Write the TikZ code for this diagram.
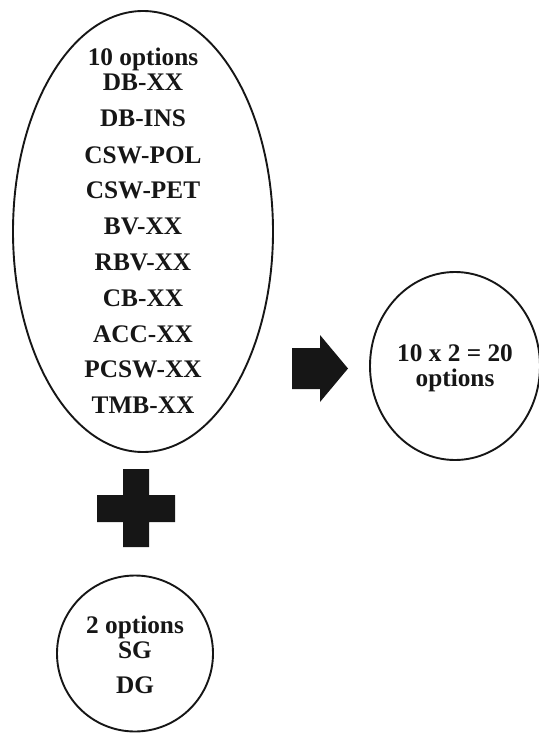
\documentclass[tikz,border=0pt]{standalone}
\usepackage{fontspec}
\setmainfont{Liberation Serif}
\usetikzlibrary{shapes.geometric}
\definecolor{ink}{RGB}{22,22,22}
\tikzset{
  oval/.style={draw=ink, line width=1.9pt, ellipse, inner sep=0pt},
  lbl/.style={anchor=base, inner sep=0pt, text=ink, font=\fontsize{25.3}{27}\selectfont\bfseries},
  solidshape/.style={fill=ink, draw=none}
}
\begin{document}
\begin{tikzpicture}[x=1pt,y=-1pt]
\useasboundingbox (0,0) rectangle (538,733);
% big ellipse
\node[oval, minimum width=260pt, minimum height=441pt] (big) at (143,231.5) {};
\node[lbl] (t0) at (143,66) {10 options};
\node[lbl] (t1) at (143,91) {DB-XX};
\node[lbl] (t2) at (143,127) {DB-INS};
\node[lbl] (t3) at (143,163) {CSW-POL};
\node[lbl] (t4) at (143,198) {CSW-PET};
\node[lbl] (t5) at (143,234) {BV-XX};
\node[lbl] (t6) at (143,270) {RBV-XX};
\node[lbl] (t7) at (143,306) {CB-XX};
\node[lbl] (t8) at (143,342) {ACC-XX};
\node[lbl] (t9) at (143,377) {PCSW-XX};
\node[lbl] (t10) at (143,413) {TMB-XX};
% plus sign
\fill[solidshape] (123,469) -- (149,469) -- (149,495) -- (175,495) -- (175,522) -- (149,522) -- (149,547) -- (123,547) -- (123,522) -- (97,522) -- (97,495) -- (123,495) -- cycle;
% small circle
\node[oval, minimum width=156pt, minimum height=156pt] (small) at (135,653.5) {};
\node[lbl] (s0) at (135,633) {2 options};
\node[lbl] (s1) at (135,658) {SG};
\node[lbl] (s2) at (135,693) {DG};
% arrow
\fill[solidshape] (292,348) -- (320,348) -- (320,335) -- (348,368.5) -- (320,402) -- (320,389) -- (292,389) -- cycle;
% result ellipse
\node[oval, minimum width=170pt, minimum height=188pt] (res) at (455,366) {};
\node[lbl] (r0) at (455,361) {10 x 2 = 20};
\node[lbl] (r1) at (455,386) {options};
\end{tikzpicture}
\end{document}
